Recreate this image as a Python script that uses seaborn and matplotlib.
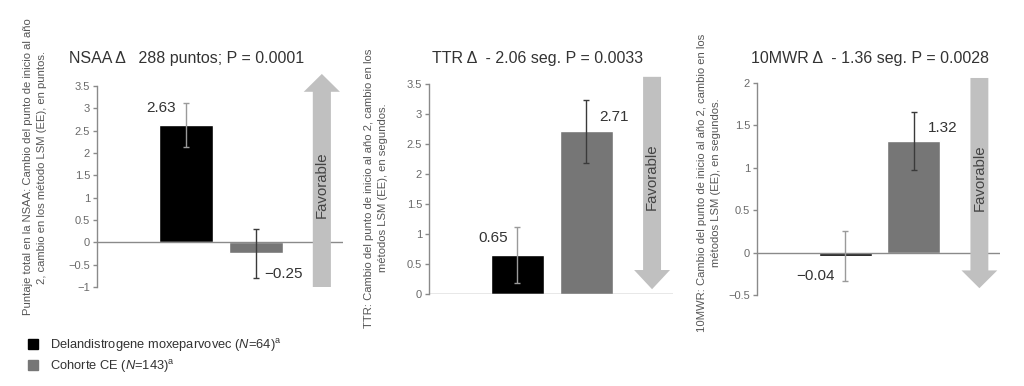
import matplotlib
matplotlib.use("Agg")
import matplotlib.pyplot as plt
import seaborn as sns
import pandas as pd
from matplotlib.patches import FancyArrow
from matplotlib.lines import Line2D

# ---- data ----
groups = ["Delandistrogene moxeparvovec", "Cohorte CE"]
nsaa_values = [2.63, -0.25]
nsaa_se = [0.50, 0.54]
ttr_values = [0.65, 2.71]
ttr_se = [0.47, 0.52]
mwr_values = [-0.04, 1.32]
mwr_se = [0.29, 0.34]

titles = ["NSAA \u0394   288 puntos; P = 0.0001",
          "TTR \u0394  - 2.06 seg. P = 0.0033",
          "10MWR \u0394  - 1.36 seg. P = 0.0028"]
ylabels = ["Puntaje total en la NSAA: Cambio del punto de inicio al año\n2, cambio en los método LSM (EE), en puntos.",
           "TTR: Cambio del punto de inicio al año 2, cambio en los\nmétodos LSM (EE), en segundos.",
           "10MWR: Cambio del punto de inicio al año 2, cambio en los\nmétodos LSM (EE), en segundos."]
value_labels = [["2.63", "\u22120.25"], ["0.65", "2.71"], ["\u22120.04", "1.32"]]
yticks = [[-1, -0.5, 0, 0.5, 1, 1.5, 2, 2.5, 3, 3.5],
          [0, 0.5, 1, 1.5, 2, 2.5, 3, 3.5],
          [-0.5, 0, 0.5, 1, 1.5, 2]]
ytick_labels = [["\u22121", "\u22120.5", "0", "0.5", "1", "1.5", "2", "2.5", "3", "3.5"],
                ["0", "0.5", "1", "1.5", "2", "2.5", "3", "3.5"],
                ["\u22120.5", "0", "0.5", "1", "1.5", "2"]]
legend_labels = [r"Delandistrogene moxeparvovec ($N$=64)$^{\mathrm{a}}$",
                 r"Cohorte CE ($N$=143)$^{\mathrm{a}}$"]

sns.set_style("white")
plt.rcParams["font.family"] = ["Liberation Sans", "DejaVu Sans"]
plt.rcParams["mathtext.fontset"] = "custom"
plt.rcParams["mathtext.rm"] = "Liberation Sans"
plt.rcParams["mathtext.it"] = "Liberation Sans:italic"

bar_colors = ["#000000", "#767676"]
err_colors = ["#9a9a9a", "#3a3a3a"]
arrow_color = "#c0c0c0"
axis_color = "#8a8a8a"
tick_color = "#6a6a6a"
text_color = "#333333"

W, H = 1024, 386
fig = plt.figure(figsize=(W / 100, H / 100), dpi=100)
positions = [[0.0947, 0.2565, 0.240, 0.5207],
             [0.419, 0.2383, 0.238, 0.544],
             [0.7393, 0.2358, 0.2373, 0.549]]
ylims = [(-1, 3.5), (0, 3.5), (-0.5, 2)]
# arrow: (y_start, y_end, head_length, text y)
arrows = [(-1.0, 3.77, 0.40, 1.3), (3.62, 0.08, 0.32, 1.95), (2.06, -0.42, 0.21, 0.88)]
# value label placement: (x offset, y centre)
label_pos = [
    [(-0.36, 3.0), (0.40, -0.71)],
    [(-0.35, 0.93), (0.40, 2.95)],
    [(-0.43, -0.28), (0.42, 1.47)],
]
title_px = [(187, 58), (538, 58), (870, 58)]
ylabel_px = [(35, 167), (376, 188), (709, 183)]
values_all = [nsaa_values, ttr_values, mwr_values]
se_all = [nsaa_se, ttr_se, mwr_se]

for i in range(3):
    ax = fig.add_axes(positions[i])
    df = pd.DataFrame({"grupo": groups, "valor": values_all[i]})
    sns.barplot(data=df, x="grupo", y="valor", hue="grupo", order=groups,
                palette=bar_colors, width=0.77, ax=ax, legend=False,
                errorbar=None, saturation=1)
    for j in range(2):
        ax.errorbar(j, values_all[i][j], yerr=se_all[i][j], color=err_colors[j],
                    capsize=2.5, elinewidth=1.0, capthick=1.0, fmt="none", zorder=3)
        dx, yy = label_pos[i][j]
        ax.text(j + dx, yy, value_labels[i][j],
                ha="center", va="center", fontsize=11, color=text_color)
    ax.set_xlim(-1.28, 2.25)
    ax.set_ylim(*ylims[i])
    ax.set_yticks(yticks[i])
    ax.set_yticklabels(ytick_labels[i])
    ax.set_xticks([])
    ax.set_xlabel("")
    ax.set_ylabel("")
    ax.axhline(0, color=axis_color, lw=1.0, zorder=1)
    for s in ["top", "right", "bottom"]:
        ax.spines[s].set_visible(False)
    ax.spines["left"].set_color(axis_color)
    ax.spines["left"].set_linewidth(1.0)
    ax.tick_params(axis="y", left=True, length=3, width=1, color=axis_color,
                   labelsize=8, labelcolor=tick_color, pad=2)
    tx, ty_ = title_px[i]
    fig.text(tx / W, 1 - ty_ / H, titles[i], ha="center", va="center",
             fontsize=11.5, color=text_color)
    lx, ly = ylabel_px[i]
    fig.text(lx / W, 1 - ly / H, ylabels[i], rotation=90, ha="center", va="center",
             multialignment="center", fontsize=8.1, color="#555555", linespacing=1.55)
    y0, y1, hl, ty = arrows[i]
    arr = FancyArrow(1.95, y0, 0, y1 - y0, width=0.26, head_width=0.52,
                     head_length=hl, length_includes_head=True,
                     color=arrow_color, clip_on=False, zorder=2, lw=0)
    ax.add_patch(arr)
    ax.text(1.95, ty, "Favorable", rotation=90, ha="center", va="center",
            fontsize=10.8, color="#444444", clip_on=False, zorder=4)

handles = [Line2D([], [], marker="s", linestyle="none", markersize=7,
                  markerfacecolor=c, markeredgecolor=c) for c in bar_colors]
leg = fig.legend(handles, legend_labels, loc="upper left",
                 frameon=False, fontsize=9.3, handletextpad=0.7, labelspacing=0.3,
                 borderaxespad=0, borderpad=0, handlelength=1.2, labelcolor=text_color)
leg.set_bbox_to_anchor((0.025, 1 - 337 / 386), transform=fig.transFigure)

fig.savefig("out.png", dpi=100)
